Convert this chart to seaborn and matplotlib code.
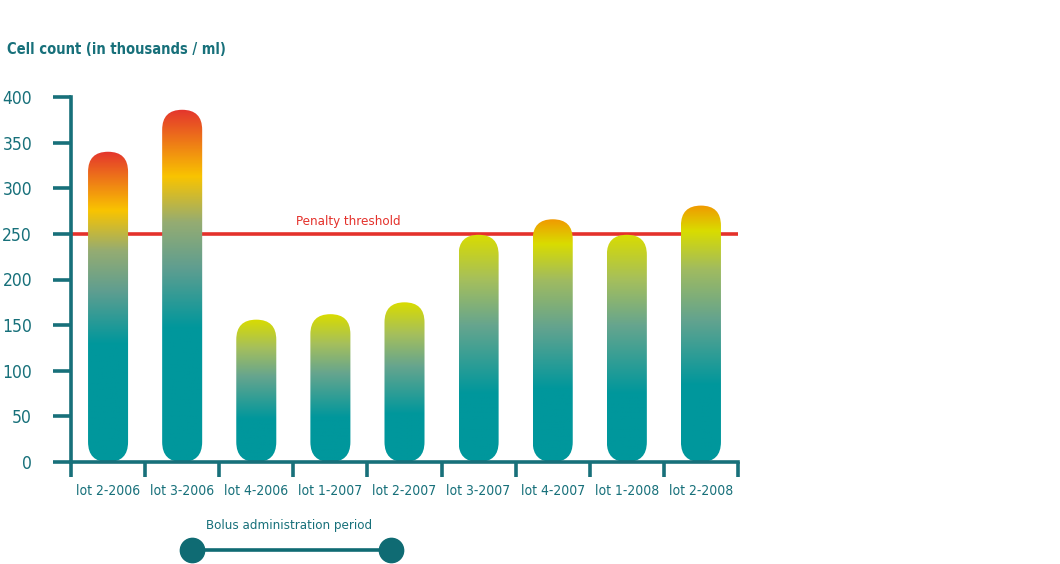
import numpy as np
import matplotlib
matplotlib.use("Agg")
import matplotlib.pyplot as plt
from matplotlib.colors import LinearSegmentedColormap
from matplotlib.patches import FancyBboxPatch
import seaborn as sns

# data
lots = ["lot 2-2006", "lot 3-2006", "lot 4-2006", "lot 1-2007", "lot 2-2007",
        "lot 3-2007", "lot 4-2007", "lot 1-2008", "lot 2-2008"]
counts = [340, 386, 156, 162, 175, 249, 266, 249, 281]
threshold = 250
yticks = [0, 50, 100, 150, 200, 250, 300, 350, 400]

axis_col = "#17707a"
teal = "#00979c"
lime = "#d9dc00"
gold = "#f9c400"
orange = "#f09a00"
red = "#e4352d"

sns.set_style("white")
plt.rcParams["font.family"] = ["DejaVu Sans"]
plt.rcParams["font.stretch"] = "condensed"

fig = plt.figure(figsize=(10.6, 5.64), dpi=100)
ax = fig.add_axes([71 / 1060, 1 - 462 / 564, (738 - 71) / 1060, (462 - 97) / 564])

sns.barplot(x=lots, y=counts, ax=ax, width=0.54, color=teal)
ax.set_xlim(-0.5, len(lots) - 0.5)
ax.set_ylim(0, 400)

# threshold line behind the bars
ax.axhline(threshold, color="#e4312b", lw=2.6, zorder=1)
ax.text(3.24, threshold + 6, "Penalty threshold", color="#e4312b", fontsize=9.5,
        ha="center", va="bottom")

# pixel aspect for pill-shaped bars
fig.canvas.draw()
p0 = ax.transData.transform((0, 0))
p1 = ax.transData.transform((1, 1))
aspect = (p1[0] - p0[0]) / (p1[1] - p0[1])


def stops_for(h):
    if h > 300:
        return [(0, teal), (0.38, teal), (0.55, "#5f9e90"), (0.68, "#95ac72"),
                (0.81, gold), (1, red)]
    if h > threshold:
        return [(0, teal), (0.3, teal), (0.55, "#62a38f"), (0.75, "#a0bb60"),
                (0.9, lime), (1, orange)]
    return [(0, teal), (0.3, teal), (0.6, "#66a58e"), (0.8, "#a5bf5c"), (1, lime)]


for bar in list(ax.patches):
    x0, w, h = bar.get_x(), bar.get_width(), bar.get_height()
    bar.set_visible(False)
    cmap = LinearSegmentedColormap.from_list("g", stops_for(h))
    pill = FancyBboxPatch((x0, 0), w, h,
                          boxstyle="round,pad=0,rounding_size=%f" % (w / 2),
                          mutation_aspect=aspect, transform=ax.transData,
                          facecolor="none", edgecolor="none")
    ax.add_patch(pill)
    grad = np.linspace(0, 1, 256).reshape(-1, 1)
    im = ax.imshow(grad, cmap=cmap, origin="lower", aspect="auto",
                   extent=(x0, x0 + w, 0, h), zorder=2)
    im.set_clip_path(pill)

ax.set_xlim(-0.5, len(lots) - 0.5)
ax.set_ylim(0, 400)

# axes styling
for s in ["top", "right"]:
    ax.spines[s].set_visible(False)
for s in ["left", "bottom"]:
    ax.spines[s].set_color(axis_col)
    ax.spines[s].set_linewidth(2.6)
    ax.spines[s].set_zorder(3)

ax.set_yticks(yticks)
ax.set_yticklabels([str(v) for v in yticks])
ax.tick_params(axis="y", direction="out", length=13, width=2.6, color=axis_col,
               labelcolor=axis_col, labelsize=12.5, pad=15, left=True)
ax.set_xticks(np.arange(len(lots) + 1) - 0.5)
ax.set_xticklabels([])
ax.set_xticks(np.arange(len(lots)), minor=True)
ax.set_xticklabels(lots, minor=True)
ax.tick_params(axis="x", which="major", direction="out", length=11, width=2.6,
               color=axis_col, bottom=True)
ax.tick_params(axis="x", which="minor", length=0, labelcolor=axis_col,
               labelsize=10, pad=16)
ax.set_xlabel("")
ax.set_ylabel("")

fig.text(7 / 1060, 1 - 49 / 564, "Cell count (in thousands / ml)", color=axis_col,
         fontsize=10.5, fontweight="bold", va="center", ha="left")

# bolus administration period
fig.text(289 / 1060, 1 - 525 / 564, "Bolus administration period", color=axis_col,
         fontsize=9.5, ha="center", va="center")
ax.plot([192 / 1060, 391 / 1060], [1 - 550 / 564, 1 - 550 / 564],
        transform=fig.transFigure, clip_on=False, color="#0f6b73", lw=2.6,
        marker="o", markersize=17.5, markerfacecolor="#0f6b73",
        markeredgecolor="#0f6b73")

fig.savefig("out.png", dpi=100)
